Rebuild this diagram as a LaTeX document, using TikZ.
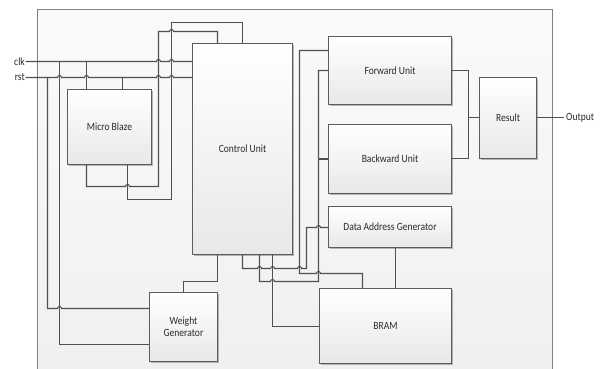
\documentclass[tikz,border=0pt]{standalone}
\usepackage{fontspec}
\setmainfont{Carlito}[FakeStretch=0.87]
\usetikzlibrary{shadows}
\definecolor{wirec}{HTML}{505050}
\definecolor{boxc}{HTML}{5C5C5C}
\definecolor{txtc}{HTML}{2A2A2A}
\definecolor{framec}{HTML}{808080}
\newcommand\hopat[2]{-- (#1-2,#2) arc[start angle=180,end angle=360,radius=2]}
\tikzset{
  blk/.style={draw=boxc, line width=1bp, rectangle, inner sep=0pt, align=center,
    text=txtc, top color=white, bottom color=black!9,
    drop shadow={shadow xshift=1.3bp, shadow yshift=-1.3bp, fill=black!50, opacity=0.55}},
  wire/.style={draw=wirec, line width=1.05bp},
  lbl/.style={text=txtc, inner sep=0.5bp},
}
\begin{document}
\begin{tikzpicture}[x=1bp,y=-1bp,font=\fontsize{11bp}{12bp}\selectfont]
\useasboundingbox (-0.5,-0.5) rectangle (607.5,367.5);
% system frame
\path[top color=white!98!black, bottom color=black!6] (37,9) rectangle (552,372);
\draw[draw=framec, line width=1bp] (37,372) -- (37,9) -- (552,9) -- (552,372);

% blocks
\node[blk, minimum width=84bp, minimum height=75bp] (mb) at (109,126.5) {Micro Blaze};
\node[blk, minimum width=100bp, minimum height=211bp] (cu) at (242,148.5) {Control Unit};
\node[blk, minimum width=123bp, minimum height=68bp] (fu) at (389.5,70) {Forward Unit};
\node[blk, minimum width=123bp, minimum height=69bp] (bu) at (389.5,158.5) {Backward Unit};
\node[blk, minimum width=123bp, minimum height=41bp] (dag) at (389.5,226.5) {Data Address Generator};
\node[blk, minimum width=132bp, minimum height=75bp] (bram) at (385,325.5) {BRAM};
\node[blk, minimum width=68bp, minimum height=69bp] (wg) at (183,326.5) {Weight\\Generator};
\node[blk, minimum width=57bp, minimum height=81bp] (res) at (507.5,117.5) {Result};

% labels
\node[lbl, anchor=east] (clk) at (25,61) {clk};
\node[lbl, anchor=east] (rst) at (25,77) {rst};
\node[lbl, anchor=west, inner sep=2.5bp] (out) at (563,117.5) {Output};

% clk and rst buses
\draw[wire] (clk.east) -- (59,61) \hopat{158}{61} \hopat{171}{61} -- (clk.east -| cu.west);
\draw[wire] (rst.east) \hopat{59}{77} \hopat{86}{77} \hopat{158}{77} \hopat{171}{77} -- (rst.east -| cu.west);

% to weight generator
\draw[wire] (59,61) -- (59,344) -- (wg.west |- 0,344);
\draw[wire] (47,77) -- (47,308) \hopat{59}{308} -- (wg.west |- 0,308);

% to micro blaze
\draw[wire] (86,61) -- (86,0 |- mb.north);
\draw[wire] (122,77) -- (122,0 |- mb.north);

% micro blaze to control unit
\draw[wire] (86,0 |- mb.south) -- (86,186) \hopat{127}{186} -- (158,186) -- (158,31) \hopat{171}{31} -- (217,31) -- (217,0 |- cu.north);
\draw[wire] (127,0 |- mb.south) -- (127,199) -- (171,199) -- (171,22) -- (242,22) -- (cu.north);

% control unit to weight generator
\draw[wire] (217,0 |- cu.south) -- (217,281) -- (183,281) -- (wg.north);

% control unit to data address generator
\draw[wire] (cu.south) -- (242,268) \hopat{259}{268} \hopat{272}{268} \hopat{299}{268} -- (306,268) -- (306,227) \hopat{318}{227} -- (dag.west |- 0,227);

% control unit to forward / backward
\draw[wire] (259,0 |- cu.south) -- (259,281) \hopat{272}{281} -- (318,281) -- (318,70) -- (fu.west);
\draw[wire] (318,0 |- bu.west) -- (bu.west);

% control unit to BRAM
\draw[wire] (272,0 |- cu.south) -- (272,326) -- (bram.west |- 0,326);

% forward unit to BRAM
\draw[wire] (fu.west |- 0,50) -- (299,50) -- (299,273) \hopat{318}{273} -- (362,273) -- (362,0 |- bram.north);

% DAG to BRAM
\draw[wire] (dag.south -| 395,0) -- (395,0 |- bram.north);

% units to result
\draw[wire] (fu.east) -- (468,70) -- (468,158) -- (bu.east |- 0,158);
\draw[wire] (468,117) -- (res.west |- 0,117);
\draw[wire] (res.east |- 0,117) -- (out.west |- 0,117);
\end{tikzpicture}
\end{document}
